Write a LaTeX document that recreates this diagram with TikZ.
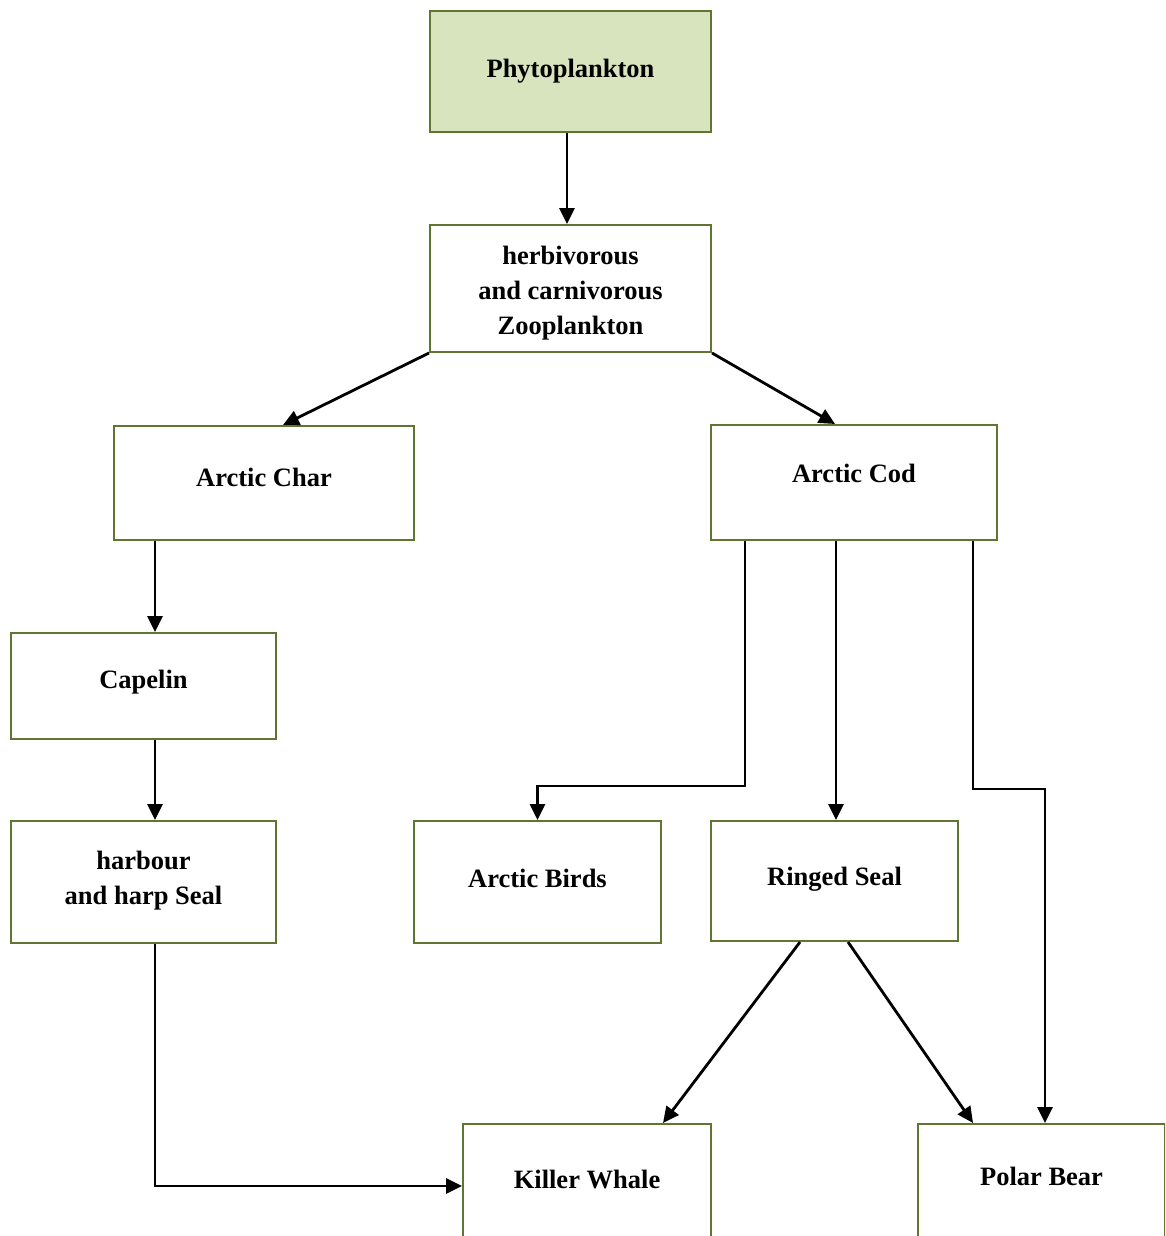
\documentclass[tikz,border=0pt]{standalone}
\usepackage{fontspec}
\setmainfont{Liberation Serif}
\usetikzlibrary{arrows.meta}
\definecolor{boxline}{RGB}{95,117,48}
\definecolor{phytofill}{RGB}{215,228,189}
\tikzset{
  box/.style={draw=boxline, line width=2pt, fill=white, inner sep=0pt, rectangle},
  lbl/.style={font=\bfseries\fontsize{26.5}{35}\selectfont, anchor=base, align=center, inner sep=0pt},
  conn/.style={draw=black, line width=2.8pt, -{Triangle[length=16pt,width=15pt]}}
}
\begin{document}
\begin{tikzpicture}[x=1pt,y=-1pt]
\clip (0,0) rectangle (1165,1236);
\fill[white] (0,0) rectangle (1165,1236);
% boxes
\node[box, fill=phytofill, minimum width=281pt, minimum height=121pt] (phyto) at (570.5,71.5) {};
\node[box, minimum width=281pt, minimum height=127pt] (zoo) at (570.5,288.5) {};
\node[box, minimum width=300pt, minimum height=114pt] (char) at (264,483) {};
\node[box, minimum width=286pt, minimum height=115pt] (cod) at (854,482.5) {};
\node[box, minimum width=265pt, minimum height=106pt] (capelin) at (143.5,686) {};
\node[box, minimum width=265pt, minimum height=122pt] (harbour) at (143.5,882) {};
\node[box, minimum width=247pt, minimum height=122pt] (birds) at (537.5,882) {};
\node[box, minimum width=247pt, minimum height=120pt] (ringed) at (834.5,881) {};
\node[box, minimum width=248pt, minimum height=124pt] (killer) at (587,1186) {};
\node[box, minimum width=247pt, minimum height=124pt] (polar) at (1041.5,1186) {};
% labels
\node[lbl] (phytoT) at (570.5,77.5) {Phytoplankton};
\node[lbl] (zooT) at (570.5,334) {herbivorous\\and carnivorous\\Zooplankton};
\node[lbl] (charT) at (264,486.5) {Arctic Char};
\node[lbl] (codT) at (854,482.5) {Arctic Cod};
\node[lbl] (capelinT) at (143.5,688) {Capelin};
\node[lbl] (harbourT) at (143.5,904) {harbour\\and harp Seal};
\node[lbl] (birdsT) at (537.5,887) {Arctic Birds};
\node[lbl] (ringedT) at (834.5,885.5) {Ringed Seal};
\node[lbl] (killerT) at (587,1188.5) {Killer Whale};
\node[lbl] (polarT) at (1041.5,1185.5) {Polar Bear};
% bends
\coordinate (bendA) at (640,786);
\coordinate (bendB) at (1010,789);
% connectors
\draw[conn] ([xshift=-3.5pt]phyto.south) -- ([xshift=-3.5pt]zoo.north);
\draw[conn] (zoo.south west) -- ([xshift=19pt]char.north);
\draw[conn] (zoo.south east) -- ([xshift=-19pt]cod.north);
\draw[conn] ([xshift=-109pt]char.south) -- ([xshift=-109pt]char.south |- capelin.north);
\draw[conn] ([xshift=11.5pt]capelin.south) -- ([xshift=11.5pt]harbour.north);
\draw[conn] ([xshift=-109pt]cod.south) |- (bendA) -| (birds.north);
\draw[conn] ([xshift=-18pt]cod.south) -- ([xshift=-18pt]cod.south |- ringed.north);
\draw[conn] ([xshift=119pt]cod.south) |- (bendB) -| ([xshift=3.5pt]polar.north);
\draw[conn] ([xshift=-34.5pt]ringed.south) -- ([xshift=76pt]killer.north);
\draw[conn] ([xshift=13.5pt]ringed.south) -- ([xshift=-68.5pt]polar.north);
\draw[conn] ([xshift=11.5pt]harbour.south) |- (killer.west);
\end{tikzpicture}
\end{document}
